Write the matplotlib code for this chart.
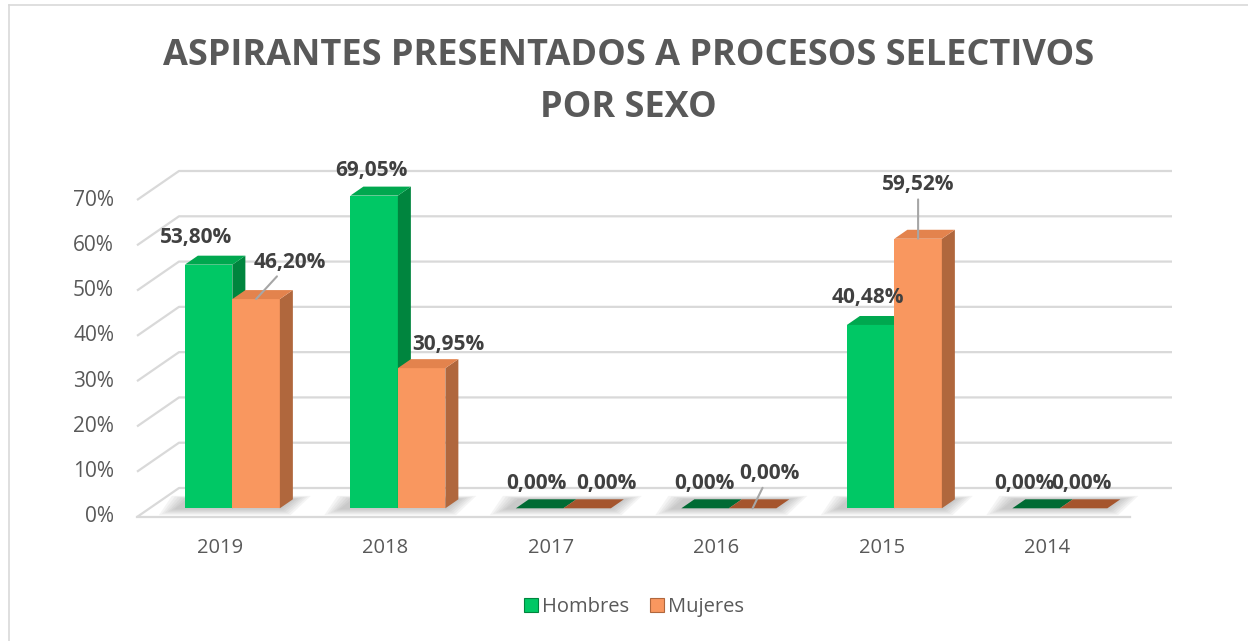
import matplotlib
matplotlib.use('Agg')
import matplotlib.pyplot as plt
from matplotlib.patches import Polygon, Patch
from matplotlib.lines import Line2D

# ---------------- data ----------------
years = ['2019', '2018', '2017', '2016', '2015', '2014']
hombres = [53.80, 69.05, 0.00, 0.00, 40.48, 0.00]
mujeres = [46.20, 30.95, 0.00, 0.00, 59.52, 0.00]
yticks = [0, 10, 20, 30, 40, 50, 60, 70]
series_names = ['Hombres', 'Mujeres']
title_lines = ['ASPIRANTES PRESENTADOS A PROCESOS SELECTIVOS', 'POR SEXO']

# ---------------- style ----------------
plt.rcParams['font.family'] = ['Open Sans', 'DejaVu Sans']
TXT = '#595959'
LBL = '#404040'
GRID = '#D9D9D9'
colors = {
    'front': ['#00C865', '#F9975F'],
    'top':   ['#00A84F', '#E3834D'],
    'side':  ['#00853E', '#B0673D'],
    'flat':  ['#006B34', '#A5552D'],
}
# label offsets in px (dx, dy up) relative to bar front-top centre, and leader flags
lab_off = [
    [(-13, 27), (-3, 25), (-3, 25), (-1, 25), (-3, 27), (-12, 25)],
    [(34, 37), (27, 24), (19, 25), (17, 35), (0, 54), (-2, 25)],
]
leader = [
    [False] * 6,
    [True, False, False, True, True, False],
]

W, H = 1248, 641
fig = plt.figure(figsize=(W / 100, H / 100), dpi=100)
fig.patch.set_facecolor('white')

L, R, Y0 = 137, 1130, 517          # front floor edge in px
K = (517 - 200) / 70.0             # px per percent
ax = fig.add_axes([L / W, (H - Y0) / H, (R - L) / W, 80 * K / H])
ax.set_xlim(-0.5, len(years) - 0.5)
ax.set_ylim(0, 80)
ax.axis('off')

cat_px = (R - L) / len(years)
DX = 42 / cat_px       # full depth offset in x data units
DY = 29 / K            # full depth offset in y data units
BAR_D0 = 0.30          # bar front position in depth
BAR_DD = 0.31          # bar depth
BW = 47.5 / cat_px     # bar width

# gridlines (side wall + back wall)
x_left, x_right = -0.5, len(years) - 0.5
for v in yticks:
    ax.plot([x_left, x_left + DX, x_right + DX], [v, v + DY, v + DY],
            color=GRID, lw=1.6, zorder=1, clip_on=False, solid_capstyle='butt')
ax.plot([x_left, x_right], [0, 0], color=GRID, lw=1.6, zorder=1, clip_on=False)

# tick labels
for v in yticks:
    ax.text(x_left - 23 / cat_px, v, f'{v}%', ha='right', va='center',
            fontsize=15, color=TXT, clip_on=False)
for i, yr in enumerate(years):
    ax.text(i, -31 / K, yr, ha='center', va='center', fontsize=14.5,
            color=TXT, clip_on=False)

base = BAR_D0 * DY
shift = BAR_D0 * DX
bdx, bdy = BAR_DD * DX, BAR_DD * DY

def fmt(v):
    return f'{v:.2f}'.replace('.', ',') + '%'

data = [hombres, mujeres]
for i in range(len(years)):
    c = i + shift
    # soft floor shadow for the group
    gx0, gx1 = c - BW, c + BW
    for k in range(6):
        e = (k + 1) * 3.0 / cat_px
        ey = (k + 1) * 0.25
        sh = [(gx0 - e - 8 / cat_px, base - ey), (gx1 + e * 0.6, base - ey),
              (gx1 + bdx + e, base + bdy + ey * 0.5),
              (gx0 + bdx - e - 8 / cat_px, base + bdy + ey * 0.5)]
        ax.add_patch(Polygon(sh, closed=True, facecolor='#6F6F6F', edgecolor='none',
                             alpha=0.07, zorder=2, clip_on=False))
    for s in range(2):
        v = data[s][i]
        x0 = c - BW + s * BW
        x1 = x0 + BW
        top = base + v
        zo = 3 + s
        if v > 0:
            ax.add_patch(Polygon([(x0, base), (x1, base), (x1, top), (x0, top)],
                                 closed=True, facecolor=colors['front'][s],
                                 edgecolor='none', zorder=zo, clip_on=False))
            ax.add_patch(Polygon([(x1, base), (x1 + bdx, base + bdy),
                                  (x1 + bdx, top + bdy), (x1, top)],
                                 closed=True, facecolor=colors['side'][s],
                                 edgecolor='none', zorder=zo, clip_on=False))
            tcol = colors['top'][s]
        else:
            tcol = colors['flat'][s]
        ax.add_patch(Polygon([(x0, top), (x1, top), (x1 + bdx, top + bdy),
                              (x0 + bdx, top + bdy)],
                             closed=True, facecolor=tcol, edgecolor='none',
                             zorder=zo, clip_on=False))
        # data label
        dxp, dyp = lab_off[s][i]
        xy = ((x0 + x1) / 2, top)
        kw = {}
        if leader[s][i]:
            kw['arrowprops'] = dict(arrowstyle='-', color='#A6A6A6', lw=1.5,
                                    shrinkA=1, shrinkB=0)
        ax.annotate(fmt(v), xy=xy, xytext=(dxp * 0.72, dyp * 0.72),
                    textcoords='offset points', ha='center', va='center',
                    fontsize=15, fontweight='bold', color=LBL, zorder=10,
                    annotation_clip=False, **kw)

# title
t1 = fig.text(628.5 / W, (H - 65) / H, title_lines[0], ha='center', va='baseline',
              fontsize=26, fontweight='bold', color=TXT)
fig.canvas.draw()
wpx = t1.get_window_extent().width
fs = 26 * 933 / wpx
t1.set_fontsize(fs)
fig.text(628.5 / W, (H - 117) / H, title_lines[1], ha='center', va='baseline',
         fontsize=fs, fontweight='bold', color=TXT)

# legend
handles = [Patch(facecolor=colors['front'][s], edgecolor=colors['side'][s], lw=0.8)
           for s in range(2)]
fig.legend(handles, series_names, loc='center', bbox_to_anchor=(634 / W, 1 - 607 / H),
           ncol=2, frameon=False, fontsize=14.5, handlelength=0.72, handleheight=0.72,
           handletextpad=0.2, columnspacing=1.0, labelcolor=TXT)

# chart border (left and top visible)
fig.add_artist(Line2D([9 / W, 9 / W], [0, 1 - 5 / H], color=GRID, lw=1.2))
fig.add_artist(Line2D([9 / W, 1], [1 - 5 / H, 1 - 5 / H], color=GRID, lw=1.2))

fig.savefig('out.png', dpi=100, facecolor='white')
